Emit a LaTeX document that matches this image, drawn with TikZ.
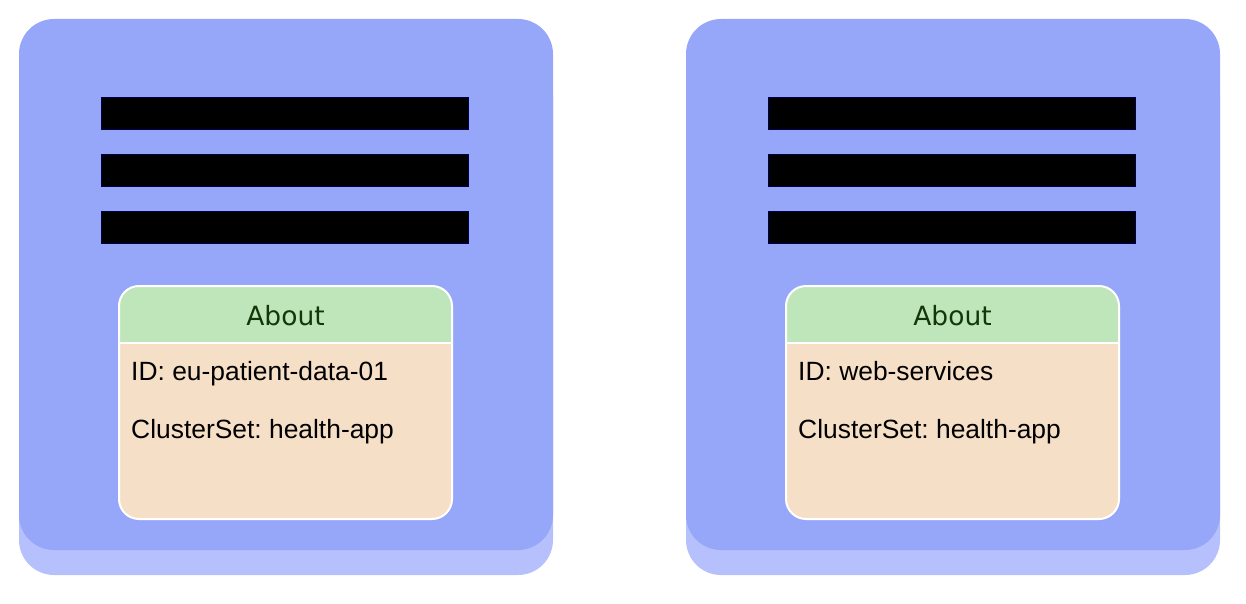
\documentclass[tikz,border=0pt]{standalone}
\usepackage{fontspec}
\setmainfont{Liberation Sans}
\newfontfamily\headfont{DejaVu Sans}
\definecolor{boxblue}{RGB}{150,167,250}
\definecolor{baseblue}{RGB}{182,192,253}
\definecolor{headgreen}{RGB}{190,230,186}
\definecolor{bodypeach}{RGB}{246,223,199}
\definecolor{headtext}{RGB}{20,55,10}
\tikzset{
  basebox/.style={fill=baseblue, draw=none, rounded corners=35pt},
  mainbox/.style={fill=boxblue, draw=none, rounded corners=35pt},
  bar/.style={fill=black, draw=black!70!blue, line width=0.6pt},
  idtext/.style={anchor=base west, inner sep=0pt, font=\frenchspacing\fontsize{26.4}{30}\selectfont},
  headtxt/.style={anchor=center, inner sep=0pt, text=headtext, font=\headfont\fontsize{26.5}{30}\selectfont},
}
\begin{document}
\begin{tikzpicture}[x=1pt,y=-1pt]
\useasboundingbox (0,0) rectangle (1246,604);
\foreach \ox/\idt/\nm in {0/{ID: eu-patient-data-01}/L, 667/{ID: web-services}/R}{
  \begin{scope}[xshift=\ox pt]
  \fill[basebox] (19,60) rectangle (553,575);
  \fill[mainbox] (19,19) rectangle (553,550);
  \foreach \y in {97,154,211}{
    \filldraw[bar] (101,\y) rectangle (468,\y+32);
  }
  % card
  \begin{scope}
    \clip[rounded corners=20pt] (119,286) rectangle (452,519);
    \fill[bodypeach] (119,286) rectangle (452,519);
    \fill[headgreen] (119,286) rectangle (452,343);
    \draw[white, line width=1.5pt] (119,343) -- (452,343);
  \end{scope}
  \draw[white, line width=2pt, rounded corners=20pt] (119,286) rectangle (452,519);
  \node[headtxt] (about\nm) at (285.5,316) {About};
  \node[idtext] (id\nm) at (131,380) {\idt};
  \node[idtext] (cs\nm) at (131,438) {ClusterSet: health-app};
  \end{scope}
}
\end{tikzpicture}
\end{document}
